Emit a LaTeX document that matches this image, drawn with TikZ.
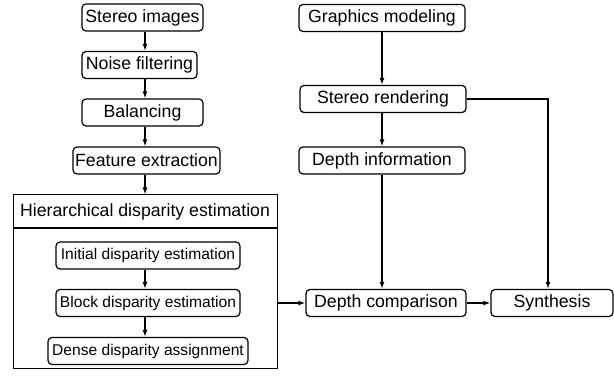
\documentclass[tikz,border=0pt]{standalone}
\usepackage{fontspec}
\setmainfont{Liberation Sans}
\usepackage{tikz}
\usetikzlibrary{arrows.meta,positioning,calc}

\begin{document}
\begin{tikzpicture}[x=1pt,y=-1pt, every node/.style={font=\fontsize{17.7}{20}\selectfont}, box/.style={draw,rounded corners=4pt,line width=1.2pt,minimum height=27pt,inner sep=0pt,align=center}, sub/.style={box,font=\fontsize{15.6}{18}\selectfont}, frame/.style={draw,line width=1pt,inner sep=0pt,minimum width=264pt}, arr/.style={-{Latex[length=7pt,width=5pt]},line width=1.3pt}]
\useasboundingbox (0,0) rectangle (614,379);
% left column
\node[box,minimum width=121pt] (stereo) at (142.5,17.5) {Stereo images};
\node[box,minimum width=115pt] (noise) at (139.5,65) {Noise filtering};
\node[box,minimum width=121pt] (bal) at (142.5,112.5) {Balancing};
\node[box,minimum width=147pt] (feat) at (146.5,160.5) {Feature extraction};
\node[frame,minimum height=33pt] (hier) at (145,211.5) {Hierarchical disparity estimation};
\node[frame,minimum height=140pt,anchor=north] (body) at (hier.south) {};
\node[sub,minimum width=184pt] (init) at (148,255.5) {Initial disparity estimation};
\node[sub,minimum width=184pt] (block) at (148,303) {Block disparity estimation};
\node[sub,minimum width=200pt] (dense) at (148,351) {Dense disparity assignment};
% right column
\node[box,minimum width=166pt] (gmod) at (382,18) {Graphics modeling};
\node[box,minimum width=166pt] (srend) at (383,99) {Stereo rendering};
\node[box,minimum width=166pt] (dinfo) at (382,160.5) {Depth information};
\node[box,minimum width=160pt] (dcomp) at (386,303) {Depth comparison};
\node[box,minimum width=122pt] (synth) at (552,303) {Synthesis};
\coordinate (turn) at (548,99);
\draw[arr] (stereo.south -| 145,0) -- (noise.north -| 145,0); \draw[arr] (noise.south -| 145,0) -- (bal.north -| 145,0);
\draw[arr] (bal.south -| 145,0) -- (feat.north -| 145,0); \draw[arr] (feat.south -| 145,0) -- (hier.north);
\draw[arr] (init.south -| 145,0) -- (block.north -| 145,0); \draw[arr] (block.south -| 145,0) -- (dense.north -| 145,0);
\draw[arr] (gmod.south) -- (gmod.south |- srend.north); \draw[arr] (gmod.south |- srend.south) -- (gmod.south |- dinfo.north);
\draw[arr] (dinfo.south) -- (dinfo.south |- dcomp.north);
\draw[arr] (body.east |- dcomp) -- (dcomp.west); \draw[arr] (dcomp.east) -- (synth.west);
\draw[arr] (srend.east) -- (turn) -- (turn |- synth.north);
\end{tikzpicture}
\end{document}
